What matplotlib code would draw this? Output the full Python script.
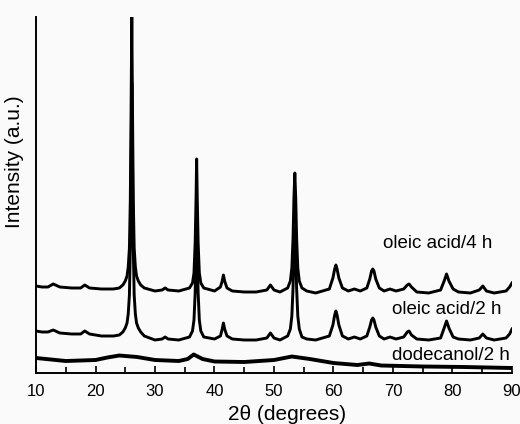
import numpy as np
import matplotlib
matplotlib.use('Agg')
import matplotlib.pyplot as plt
from matplotlib.ticker import MultipleLocator

plt.rcParams['font.family'] = ['Liberation Sans', 'DejaVu Sans']

# XRD traces read point by point (2theta in degrees, intensity in a.u. incl. vertical offset)
oleic_x = [10, 11, 12, 12.9, 14, 16, 17.5, 18.2, 19, 21, 23,
           24.0, 24.6, 25.0, 25.3, 25.5, 25.7, 25.85, 25.95, 26.1, 26.25, 26.35, 26.5, 26.7, 26.9,
           27.2, 27.6, 28.2, 30, 31.2, 31.7, 32.2, 34,
           35.8, 36.3, 36.55, 36.75, 36.9, 37.0, 37.1, 37.25, 37.45, 37.7, 38.2,
           40, 41.0, 41.3, 41.5, 41.7, 42.1, 43, 45, 47, 48.8, 49.4, 50.0, 51,
           52.3, 52.75, 53.0, 53.2, 53.35, 53.5, 53.65, 53.8, 54.0, 54.25, 54.7,
           55.5, 57, 59.3, 59.9, 60.2, 60.4, 60.6, 60.9, 61.5, 62.5, 63.5, 64.5,
           65.6, 66.1, 66.4, 66.6, 66.8, 67.1, 67.7, 68.5, 69.5, 70.5, 71.8, 72.4, 72.7, 73.1,
           74, 76, 78, 78.6, 79.0, 79.4, 80.1, 81, 83, 84.5, 85.1, 85.7, 87, 89, 89.6, 90]

oleic4_y = [87, 86, 86, 89, 86, 85, 85, 88, 85, 84, 84,
            85, 88, 92, 97, 106, 125, 173, 240, 356, 240, 173, 125, 106, 97,
            92, 88, 85, 82, 83, 85, 83, 82,
            85, 90, 100, 130, 175, 214, 175, 130, 100, 90, 85,
            82, 86, 92, 98, 92, 85, 82, 81, 81, 83, 88, 83, 81,
            85, 92, 105, 135, 175, 200, 175, 135, 105, 92, 85,
            82, 80, 84, 95, 104, 108, 104, 95, 85, 82, 84, 82,
            85, 94, 102, 104, 102, 94, 85, 82, 84, 82, 84, 88, 89, 86,
            81, 80, 83, 92, 99, 92, 84, 81, 80, 83, 87, 82, 80, 82, 86, 90]

oleic2_y = [42, 41, 41, 43, 40, 39, 39, 42, 39, 37, 37,
            38, 41, 45, 50, 59, 78, 125, 190, 290, 190, 125, 78, 59, 50,
            45, 41, 37, 33, 34, 36, 34, 33,
            36, 42, 53, 80, 125, 158, 125, 80, 53, 42, 36,
            34, 37, 44, 50, 44, 37, 34, 33, 33, 35, 40, 35, 33,
            37, 44, 57, 85, 120, 145, 120, 85, 57, 44, 36,
            34, 33, 37, 48, 58, 62, 58, 48, 37, 34, 36, 34,
            37, 46, 53, 55, 53, 46, 37, 34, 36, 34, 36, 41, 42, 38,
            34, 33, 35, 45, 52, 45, 36, 34, 33, 35, 39, 35, 33, 35, 39, 44]

dodec_x = [10, 15, 20, 22, 24, 27, 30, 34, 35.5, 36.5, 38, 40, 45, 50, 53, 56, 60, 64, 66,
           68, 75, 82, 90]
dodec_y = [15, 12, 13, 15.5, 17.5, 16, 13, 12, 14, 18.5, 14, 11.5, 11, 13, 16.5, 14, 10, 8,
           9.5, 7.5, 6.5, 6, 5]

labels = ['oleic acid/4 h', 'oleic acid/2 h', 'dodecanol/2 h']
label_pos = [(68.3, 129), (69.8, 63), (69.8, 18)]

fig = plt.figure(figsize=(5.2, 4.24), dpi=100, facecolor='#fafafa')
ax = fig.add_axes([36 / 520, 51 / 424, 476 / 520, 356 / 424])
ax.set_facecolor('#fafafa')

ax.plot(oleic_x, oleic4_y, color='black', lw=2.1, solid_joinstyle='round')
ax.plot(oleic_x, oleic2_y, color='black', lw=2.1, solid_joinstyle='round')
ax.plot(dodec_x, dodec_y, color='black', lw=2.8, solid_joinstyle='round')

for txt, (tx, ty) in zip(labels, label_pos):
    ax.text(tx, ty, txt, fontsize=13.5, va='center', ha='left')

ax.set_xlim(10, 90)
ax.set_ylim(0, 356)
ax.spines['top'].set_visible(False)
ax.spines['right'].set_visible(False)
ax.spines['left'].set_linewidth(1.4)
ax.spines['bottom'].set_linewidth(1.4)
ax.xaxis.set_major_locator(MultipleLocator(10))
ax.xaxis.set_minor_locator(MultipleLocator(5))
ax.tick_params(axis='x', which='major', direction='in', length=5, width=1.2, labelsize=12, pad=8)
ax.tick_params(axis='x', which='minor', direction='in', length=4, width=1.2)
ax.set_yticks([])

ax.set_xlabel('2θ (degrees)', fontsize=15)
ax.xaxis.set_label_coords((287 - 36) / 476, -0.09)
ax.set_ylabel('Intensity (a.u.)', fontsize=15)
ax.yaxis.set_label_coords(-0.025, 0.593)

fig.savefig('out.png', dpi=100, facecolor=fig.get_facecolor())
